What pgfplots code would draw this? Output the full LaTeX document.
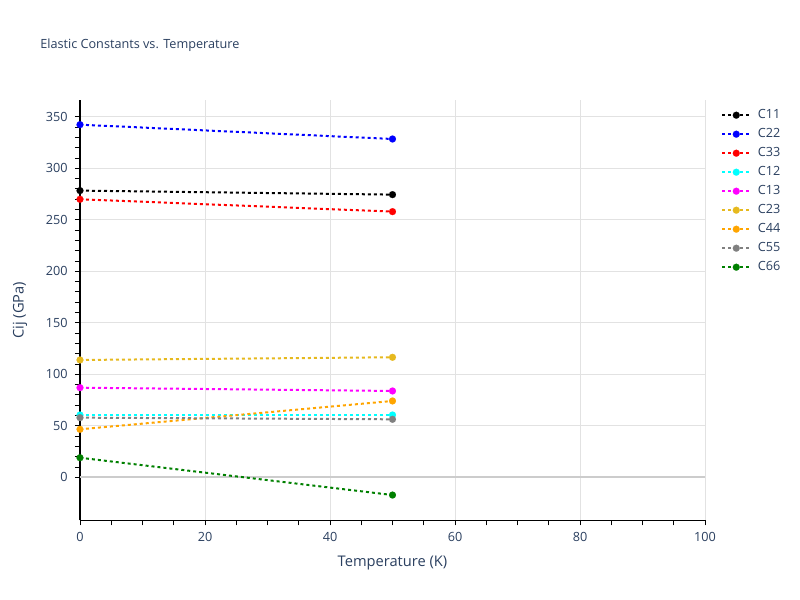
\documentclass[border=0pt]{standalone}
\usepackage{pgfplots}
\pgfplotsset{compat=1.18}
\usepackage{fontspec}
\setmainfont{Open Sans}
\definecolor{txt}{HTML}{2A3F5F}
\definecolor{gridc}{HTML}{E2E2E2}
\definecolor{zeroc}{HTML}{CCCCCC}
\definecolor{c23}{HTML}{E6B91E}
\definecolor{c44}{HTML}{FFA500}
\definecolor{pcyan}{HTML}{00FFFF}
\definecolor{pmag}{HTML}{FF00FF}
\definecolor{pblue}{HTML}{0000FF}
\definecolor{pred}{HTML}{FF0000}
\definecolor{pgray}{HTML}{808080}
\definecolor{pgreen}{HTML}{008000}
\begin{document}
\begin{tikzpicture}
\useasboundingbox (0,0) rectangle (600pt,450pt);
\node[anchor=west, inner sep=0pt, text=txt, font=\fontsize{9.5}{11}\selectfont] at (30pt,416.25pt) {Elastic Constants vs. Temperature};
\begin{axis}[
  at={(60pt,59.8pt)}, anchor=south west,
  scale only axis, width=468.75pt, height=315pt,
  xmin=0, xmax=100, ymin=-41.7, ymax=366,
  axis x line*=bottom, axis y line*=left,
  axis line style={black, line width=0.75pt},
  xtick={0,20,...,100}, ytick={0,50,...,350},
  minor x tick num=3, minor y tick num=4,
  tick align=outside, major tick length=3.75pt, minor tick length=3.75pt,
  tick style={black, line width=0.6pt},
  xmajorgrids, ymajorgrids,
  major grid style={gridc, line width=0.75pt},
  ticklabel style={text=txt, font=\fontsize{9.5}{11}\selectfont},
  /pgf/number format/assume math mode=true,
  xticklabel style={yshift=-2pt},
  yticklabel style={xshift=-2pt},
  xlabel={Temperature (K)}, ylabel={Cij (GPa)},
  label style={text=txt, font=\fontsize{11}{13}\selectfont},
  xlabel style={at={(axis description cs:0.5,-0.1024)}, anchor=center},
  ylabel style={at={(axis description cs:-0.096,0.5)}, anchor=center, rotate=0},
  clip=false,
  every axis plot/.append style={line width=1.5pt, dash pattern=on 2.25pt off 2.25pt, mark=*, mark size=2.6pt, mark options={solid, line width=0.1pt}},
  legend image code/.code={\draw[mark repeat=2,mark phase=2,#1] plot coordinates {(0pt,0pt)(10.5pt,0pt)(21pt,0pt)};},
  legend style={at={(axis description cs:1,1)}, anchor=north west, xshift=12pt, yshift=-4.5pt,
    draw=none, fill=none, inner sep=0pt, row sep=1.25pt,
    font=\fontsize{9.5}{11}\selectfont, text=txt,
    nodes={text height=7pt, text depth=2pt, inner sep=2pt},
    /tikz/every odd column/.append style={column sep=3pt}},
  legend cell align=left,
]
\draw[zeroc, line width=1.5pt] (axis cs:0,0) -- (axis cs:100,0);
\addplot[color=black] coordinates {(0,278.3) (50,274.4)};
\addlegendentry{C11}
\addplot[color=pblue] coordinates {(0,342.3) (50,328.4)};
\addlegendentry{C22}
\addplot[color=pred] coordinates {(0,269.9) (50,257.9)};
\addlegendentry{C33}
\addplot[color=pcyan] coordinates {(0,60.5) (50,60.5)};
\addlegendentry{C12}
\addplot[color=pmag] coordinates {(0,87.0) (50,83.8)};
\addlegendentry{C13}
\addplot[color=c23] coordinates {(0,113.9) (50,116.5)};
\addlegendentry{C23}
\addplot[color=c44] coordinates {(0,46.6) (50,74.1)};
\addlegendentry{C44}
\addplot[color=pgray] coordinates {(0,57.9) (50,56.3)};
\addlegendentry{C55}
\addplot[color=pgreen] coordinates {(0,19.0) (50,-17.2)};
\addlegendentry{C66}
\end{axis}
\end{tikzpicture}
\end{document}
